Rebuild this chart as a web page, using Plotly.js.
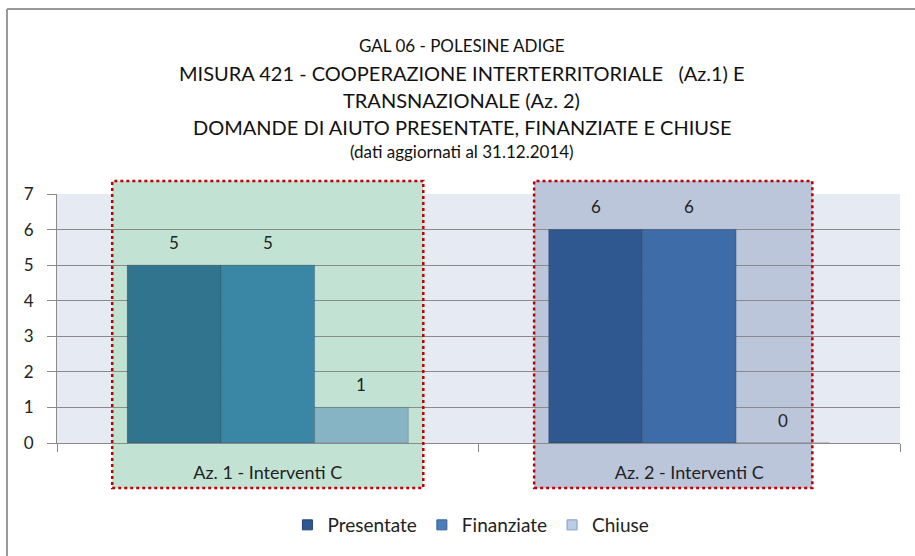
<!DOCTYPE html>
<html>
<head>
<meta charset="utf-8">
<script src="https://cdn.plot.ly/plotly-3.0.1.min.js"></script>
<style>html,body{margin:0;padding:0;background:#fff;}#chart{width:915px;height:556px;}</style>
</head>
<body>
<div id="chart"></div>
<script>
// ---- data ----
const categories = ["Az. 1 - Interventi C", "Az. 2 - Interventi C"];
const seriesNames = ["Presentate", "Finanziate", "Chiuse"];
const presentate = [5, 6];
const finanziate = [5, 6];
const chiuse = [1, 0];
const titleLines = [
  "GAL 06 - POLESINE ADIGE",
  "MISURA 421 - COOPERAZIONE INTERTERRITORIALE \u00a0 (Az.1) E",
  "TRANSNAZIONALE (Az. 2)",
  "DOMANDE DI AIUTO PRESENTATE, FINANZIATE E CHIUSE",
  "(dati aggiornati al 31.12.2014)"
];
const yTicks = [0, 1, 2, 3, 4, 5, 6, 7];

// ---- styles ----
const FONT = "Lato, 'Open Sans', sans-serif";
const BARGAP = 0.333;
const pointColors = [
  ["#31748d", "#2f5890"],
  ["#3a87a5", "#3d6ca8"],
  ["#86b4c4", "#b9c4da"]
];
const legendColors = ["#2f5792", "#4a7ebb", "#b9cde5"];
const legendLine = ["#22416f", "#345f95", "#7f9fc7"];
const values = [presentate, finanziate, chiuse];

const traces = values.map((v, i) => ({
  type: "bar",
  x: categories,
  y: v,
  name: seriesNames[i],
  showlegend: false,
  marker: { color: pointColors[i], line: { color: "rgba(0,0,0,0.22)", width: 0.8 } },
  hoverinfo: "skip"
}));

seriesNames.forEach((n, i) => {
  traces.push({
    type: "scatter", mode: "markers", x: [null], y: [null], name: n,
    marker: { symbol: "square", size: 10, color: legendColors[i], line: { color: legendLine[i], width: 1 } },
    hoverinfo: "skip"
  });
});

const py = p => (443 - p) / 249; // pixel row -> paper y
const titleY = [46, 73, 100, 127, 152];
const titleSize = [17, 20, 20, 20, 17];
const annotations = titleLines.map((t, i) => ({
  text: t, xref: "paper", yref: "paper", x: 0.4804, y: py(titleY[i]),
  xanchor: "center", yanchor: "middle", showarrow: false,
  font: { family: FONT, size: titleSize[i], color: "#111" }
}));

// value labels above each bar, placed at the bar's slot in its group
const slot = (1 - BARGAP) / values.length;
values.forEach((v, i) => {
  v.forEach((val, j) => {
    annotations.push({
      text: String(val), xref: "x", yref: "y",
      x: j + (i - (values.length - 1) / 2) * slot, y: val,
      yshift: 23, xanchor: "center", yanchor: "middle", showarrow: false,
      font: { family: FONT, size: 17, color: "#222" }
    });
  });
});

const shapes = [
  { type: "rect", layer: "below", xref: "x", yref: "paper", x0: -0.369, x1: 0.369, y0: py(488), y1: py(181),
    fillcolor: "#c2e3d4", line: { width: 0 } },
  { type: "rect", layer: "below", xref: "x", yref: "paper", x0: 0.632, x1: 1.292, y0: py(488), y1: py(181),
    fillcolor: "#bcc6da", line: { width: 0 } },
  { type: "rect", layer: "above", xref: "x", yref: "paper", x0: -0.369, x1: 0.369, y0: py(488), y1: py(181),
    fillcolor: "rgba(0,0,0,0)", line: { color: "#c00000", width: 2.5, dash: "dot" } },
  { type: "rect", layer: "above", xref: "x", yref: "paper", x0: 0.632, x1: 1.292, y0: py(488), y1: py(181),
    fillcolor: "rgba(0,0,0,0)", line: { color: "#c00000", width: 2.5, dash: "dot" } },
  { type: "line", xref: "paper", yref: "paper", x0: (7 - 57) / 843, x1: 1.2, y0: py(9), y1: py(9),
    line: { color: "#9a9a9a", width: 2 } },
  { type: "line", xref: "paper", yref: "paper", x0: (7 - 57) / 843, x1: (7 - 57) / 843, y0: py(9), y1: -0.6,
    line: { color: "#9a9a9a", width: 2 } }
];

const layout = {
  width: 915, height: 556,
  margin: { l: 57, r: 15, t: 194, b: 113 },
  paper_bgcolor: "#ffffff",
  plot_bgcolor: "#e5eaf3",
  font: { family: FONT, color: "#222" },
  barmode: "group",
  bargap: BARGAP,
  bargroupgap: 0,
  showlegend: true,
  legend: {
    orientation: "h", xref: "paper", yref: "paper", x: 0.491, y: py(525),
    xanchor: "center", yanchor: "middle",
    font: { family: FONT, size: 19, color: "#222" },
    itemwidth: 30, traceorder: "normal"
  },
  xaxis: {
    type: "category", tickson: "boundaries", ticks: "outside", ticklen: 8, tickcolor: "#8a8a8a",
    showline: true, linecolor: "#8a8a8a", linewidth: 1, showgrid: false,
    tickfont: { family: FONT, size: 18, color: "#222" }, ticklabelstandoff: 13
  },
  yaxis: {
    range: [0, 7], tickvals: yTicks, ticks: "outside", ticklen: 9, tickcolor: "#8a8a8a",
    showline: true, linecolor: "#8a8a8a", linewidth: 1,
    showgrid: true, gridcolor: "#8a8a8a", gridwidth: 1, zeroline: false,
    tickfont: { family: FONT, size: 17, color: "#222" }, ticklabelstandoff: 10
  },
  annotations: annotations,
  shapes: shapes
};

Plotly.newPlot("chart", traces, layout, { staticPlot: true, displayModeBar: false });
</script>
</body>
</html>
